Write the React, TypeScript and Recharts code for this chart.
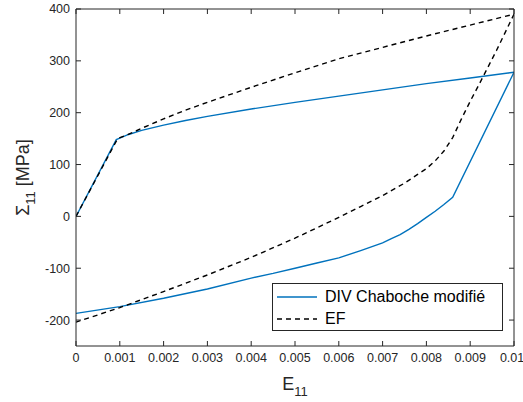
import React from 'react';
import { LineChart, Line, XAxis, YAxis } from 'recharts';

// DIV Chaboche modifié : loading branch then unloading branch (path order)
const divStrain = [0, 0.00092, 0.001, 0.0012, 0.0015, 0.002, 0.0025, 0.003, 0.004, 0.005, 0.006, 0.007, 0.008, 0.009, 0.01,
  0.0086, 0.0084, 0.0082, 0.008, 0.0078, 0.0076, 0.0074, 0.0072, 0.007, 0.0065, 0.006, 0.0055, 0.005, 0.0045, 0.004, 0.003, 0.002, 0.001, 0];
const divStress = [0, 148, 151, 158, 166, 176, 185, 193, 207, 220, 232, 244, 256, 267, 278,
  37, 23, 10, -2, -14, -25, -35, -43, -51, -66, -80, -90, -100, -110, -119, -140, -158, -174, -187];

// EF (éléments finis)
const efStrain = [0, 0.00095, 0.0011, 0.0013, 0.0015, 0.002, 0.0025, 0.003, 0.004, 0.005, 0.006, 0.007, 0.008, 0.009, 0.01,
  0.0098, 0.0096, 0.0094, 0.0092, 0.009, 0.0088, 0.0086, 0.0084, 0.0082, 0.008, 0.0078, 0.0075, 0.007, 0.0065, 0.006,
  0.005, 0.004, 0.003, 0.002, 0.001, 0];
const efStress = [0, 150, 155, 162, 170, 188, 205, 220, 249, 277, 304, 326, 348, 369, 390,
  355, 320, 287, 254, 222, 188, 152, 126, 107, 92, 81, 64, 40, 19, -2,
  -42, -79, -113, -145, -176, -204];

const xTicks = [0, 0.001, 0.002, 0.003, 0.004, 0.005, 0.006, 0.007, 0.008, 0.009, 0.01];
const yTicks = [-200, -100, 0, 100, 200, 300, 400];

const divData = divStrain.map((e, i) => ({ e, s: divStress[i] }));
const efData = efStrain.map((e, i) => ({ e, s: efStress[i] }));

const AXIS = '#262626';
const FONT = '"Liberation Sans", Arial, sans-serif';
const tickStyle = { fill: AXIS, fontSize: 12.5, fontFamily: FONT };

const XLabel = ({ viewBox }: any) => {
  const cx = viewBox.x + viewBox.width / 2;
  return (
    <text x={cx} y={390} textAnchor="middle" fill={AXIS} fontFamily={FONT}>
      <tspan fontSize={18}>E</tspan>
      <tspan fontSize={13} dy={6}>11</tspan>
    </text>
  );
};

const YLabel = ({ viewBox }: any) => {
  const cy = viewBox.y + viewBox.height / 2;
  return (
    <text x={29} y={cy} transform={`rotate(-90 29 ${cy})`} textAnchor="middle" fill={AXIS} fontFamily={FONT}>
      <tspan fontSize={18}>Σ</tspan>
      <tspan fontSize={13} dy={6}>11</tspan>
      <tspan fontSize={18} dy={-6}> [MPa]</tspan>
    </text>
  );
};

export default function App() {
  return (
    <div style={{ position: 'absolute', left: 0, top: 0, width: 523, height: 402, background: '#fff' }}>
      <LineChart width={523} height={402} margin={{ top: 8, right: 8, bottom: 0, left: 0 }}>
        <XAxis
          xAxisId="b" dataKey="e" type="number" domain={[0, 0.01]} ticks={xTicks}
          tickFormatter={(v: number) => String(+v.toFixed(3))}
          height={56} stroke={AXIS} tickSize={-5} tickMargin={12} tick={tickStyle}
          allowDataOverflow label={<XLabel />}
        />
        <XAxis
          xAxisId="t" orientation="top" dataKey="e" type="number" domain={[0, 0.01]} ticks={xTicks}
          tickFormatter={() => ''} height={1} stroke={AXIS} tickSize={-5} allowDataOverflow
        />
        <YAxis
          yAxisId="l" dataKey="s" type="number" domain={[-250, 400]} ticks={yTicks}
          width={76} stroke={AXIS} tickSize={-5} tickMargin={11} tick={tickStyle}
          allowDataOverflow label={<YLabel />}
        />
        <YAxis
          yAxisId="r" orientation="right" dataKey="s" type="number" domain={[-250, 400]} ticks={yTicks}
          tickFormatter={() => ''} width={1} stroke={AXIS} tickSize={-5} allowDataOverflow
        />
        <Line
          xAxisId="b" yAxisId="l" data={divData} dataKey="s" type="linear" stroke="#0072BD"
          strokeWidth={1.4} dot={false} isAnimationActive={false}
        />
        <Line
          xAxisId="b" yAxisId="l" data={efData} dataKey="s" type="linear" stroke="#000"
          strokeWidth={1.4} strokeDasharray="5 4" dot={false} isAnimationActive={false}
        />
      </LineChart>
      <div
        style={{
          position: 'absolute', left: 272, top: 283, width: 229, height: 46,
          border: `1px solid ${AXIS}`, background: '#fff', fontFamily: FONT, fontSize: 16, color: '#000',
        }}
      >
        <div style={{ display: 'flex', alignItems: 'center', height: 23, marginTop: 1 }}>
          <svg width={52} height={10}><line x1={4} x2={44} y1={5} y2={5} stroke="#0072BD" strokeWidth={1.4} /></svg>
          <span>DIV Chaboche modifié</span>
        </div>
        <div style={{ display: 'flex', alignItems: 'center', height: 22 }}>
          <svg width={52} height={10}><line x1={4} x2={44} y1={5} y2={5} stroke="#000" strokeWidth={1.4} strokeDasharray="5 4" /></svg>
          <span>EF</span>
        </div>
      </div>
    </div>
  );
}
